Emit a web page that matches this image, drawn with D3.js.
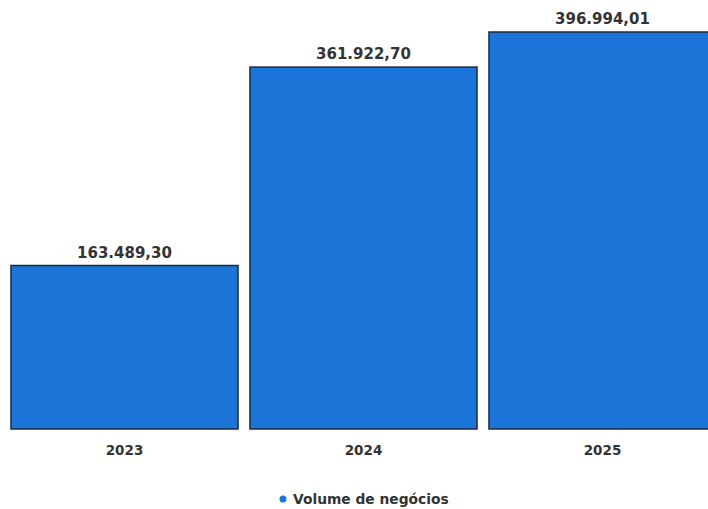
<!DOCTYPE html>
<html>
<head>
<meta charset="utf-8">
<script src="https://d3js.org/d3.v7.min.js"></script>
<style>
  body { margin: 0; background: #fff; }
  text { font-family: "DejaVu Sans", sans-serif; font-weight: bold; fill: #333; }
</style>
</head>
<body>
<svg width="708" height="509"></svg>
<script>
const years = ['2023', '2024', '2025'];
const volumes = [163489.30, 361922.70, 396994.01];
const seriesName = 'Volume de negócios';

const svg = d3.select('svg');

var x = d3.scaleBand().domain(years).range([5, 722]).paddingInner(0.05).paddingOuter(0.025);
var y = d3.scaleLinear().domain([0, 429000]).range([429, 0]);

var fmt = function(v) {
  return d3.format(',.2f')(v).replace(/,/g, ' ').replace('.', ',').replace(/ /g, '.');
};

svg.append('g').selectAll('rect')
  .data(volumes).enter().append('rect')
  .attr('x', function(d, i) { return x(years[i]); })
  .attr('y', function(d) { return y(d); })
  .attr('width', x.bandwidth())
  .attr('height', function(d) { return y(0) - y(d); })
  .attr('fill', '#1b74d8')
  .attr('stroke', '#1c2a3c')
  .attr('stroke-width', 1.5);

svg.append('g').selectAll('text')
  .data(volumes).enter().append('text')
  .attr('x', function(d, i) { return x(years[i]) + x.bandwidth() / 2; })
  .attr('y', function(d) { return y(d) - 8; })
  .attr('text-anchor', 'middle')
  .style('font-size', '15px')
  .text(fmt);

var xAxis = svg.append('g')
  .attr('transform', 'translate(0,' + y(0) + ')')
  .call(d3.axisBottom(x).tickSize(0).tickPadding(16));
xAxis.select('.domain').remove();
xAxis.selectAll('text').style('font-size', '13.5px').style('font-family', '"DejaVu Sans", sans-serif').attr('fill', '#333');

var legend = svg.append('g').attr('transform', 'translate(283,499)');
legend.append('circle').attr('r', 3.5).attr('fill', '#1b74d8');
legend.append('text').attr('x', 10).attr('dy', '0.35em').style('font-size', '13.8px').text(seriesName);
</script>
</body>
</html>
